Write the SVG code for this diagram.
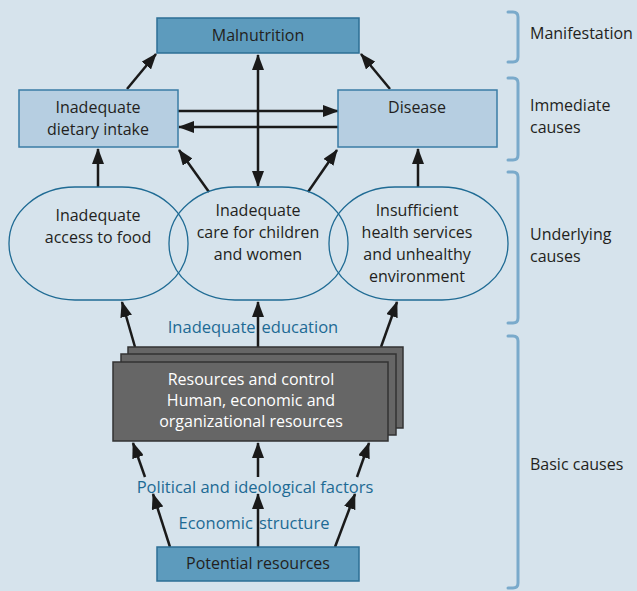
<svg xmlns="http://www.w3.org/2000/svg" width="637" height="591" viewBox="0 0 637 591">
<defs>
<marker id="ah" viewBox="0 0 16 12" refX="15" refY="6" markerWidth="16" markerHeight="12" markerUnits="userSpaceOnUse" orient="auto-start-reverse">
<path d="M0,0 L16,6 L0,12 Z" fill="#1a1a1a"/>
</marker>
<style>
.t{font-family:"Open Sans","Noto Sans",sans-serif;font-size:16px;fill:#231f20;text-anchor:middle}
.tl{font-family:"Open Sans","Noto Sans",sans-serif;font-size:16px;fill:#231f20}
.tb{font-family:"Open Sans","Noto Sans",sans-serif;font-size:16.5px;fill:#1d6a94;text-anchor:middle}
.tw{font-family:"Open Sans","Noto Sans",sans-serif;font-size:16px;fill:#ffffff;text-anchor:middle}
.dark{fill:#5d9bbd;stroke:#2d6f95;stroke-width:1.5}
.light{fill:#b6cee1;stroke:#3a7ca5;stroke-width:1.5}
.oval{fill:none;stroke:#1f6b94;stroke-width:1.3}
.res{fill:#666666;stroke:#333333;stroke-width:1.5}
.c{stroke:#1a1a1a;stroke-width:2.5;fill:none;marker-end:url(#ah)}
.cc{stroke:#1a1a1a;stroke-width:2.5;fill:none;marker-end:url(#ah);marker-start:url(#ah)}
.br{fill:none;stroke:#7aaacb;stroke-width:3;stroke-linecap:round}
</style>
</defs>
<rect width="637" height="591" fill="#d6e3ec"/>

<g id="connectors">
<line class="c" x1="127" y1="89" x2="156" y2="54"/>
<line class="c" x1="390" y1="89" x2="361" y2="54"/>
<line class="cc" x1="258" y1="55" x2="258" y2="186"/>
<line class="c" x1="178" y1="111" x2="338" y2="111"/>
<line class="c" x1="338" y1="127" x2="179" y2="127"/>
<line class="c" x1="98" y1="187" x2="98" y2="149"/>
<line class="c" x1="209" y1="192" x2="179" y2="150"/>
<line class="c" x1="308" y1="192" x2="337" y2="150"/>
<line class="c" x1="418" y1="187" x2="418" y2="149"/>
<line class="c" x1="135" y1="347" x2="122" y2="302"/>
<line class="c" x1="258" y1="347" x2="258" y2="302"/>
<line class="c" x1="381" y1="347" x2="397" y2="302"/>
<line class="c" x1="145" y1="477" x2="133" y2="443"/>
<line class="c" x1="258" y1="477" x2="258" y2="443"/>
<line class="c" x1="357" y1="477" x2="369" y2="443"/>
<line class="c" x1="170" y1="547" x2="153" y2="494"/>
<line class="c" x1="258" y1="547" x2="258" y2="494"/>
<line class="c" x1="335" y1="547" x2="355" y2="494"/>
</g>

<g id="malnutrition">
<rect class="dark" x="157" y="18" width="202" height="35"/>
<text class="t" x="258" y="41">Malnutrition</text>
</g>
<g id="dietary-intake">
<rect class="light" x="19" y="90" width="159" height="57"/>
<text class="t" x="98" y="113">Inadequate</text>
<text class="t" x="98" y="135">dietary intake</text>
</g>
<g id="disease">
<rect class="light" x="338" y="90" width="159" height="57"/>
<text class="t" x="417" y="113">Disease</text>
</g>
<g id="access-food">
<rect class="oval" x="9" y="187" width="179" height="113" rx="66" ry="56"/>
<text class="t" x="98" y="221">Inadequate</text>
<text class="t" x="98" y="243">access to food</text>
</g>
<g id="care">
<rect class="oval" x="169" y="187" width="179" height="113" rx="66" ry="56"/>
<text class="t" x="258" y="216">Inadequate</text>
<text class="t" x="258" y="238">care for children</text>
<text class="t" x="258" y="260">and women</text>
</g>
<g id="health">
<rect class="oval" x="329" y="187" width="179" height="113" rx="66" ry="56"/>
<text class="t" x="417" y="216">Insufficient</text>
<text class="t" x="417" y="238">health services</text>
<text class="t" x="417" y="260">and unhealthy</text>
<text class="t" x="417" y="282">environment</text>
</g>
<g id="education-label">
<text class="tb" x="253" y="333">Inadequate<tspan dx="6">education</tspan></text>
</g>
<g id="resources">
<rect class="res" x="128" y="347" width="275" height="81"/>
<rect class="res" x="121" y="354" width="275" height="81"/>
<rect class="res" x="113" y="362" width="275" height="79"/>
<text class="tw" x="251" y="385">Resources and control</text>
<text class="tw" x="251" y="406">Human, economic and</text>
<text class="tw" x="251" y="427">organizational resources</text>
</g>
<g id="political-label">
<text class="tb" x="255" y="493">Political and ideological factors</text>
</g>
<g id="economic-label">
<text class="tb" x="254" y="529">Economic<tspan dx="6">structure</tspan></text>
</g>
<g id="potential">
<rect class="dark" x="157" y="547" width="202" height="34"/>
<text class="t" x="258" y="569">Potential resources</text>
</g>

<g id="brackets">
<path class="br" d="M508,12 H513 Q518,12 518,17 V57 Q518,62 513,62 H508"/>
<path class="br" d="M508,78 H513 Q518,78 518,83 V155 Q518,160 513,160 H508"/>
<path class="br" d="M508,172 H513 Q518,172 518,177 V318 Q518,323 513,323 H508"/>
<path class="br" d="M508,336 H513 Q518,336 518,341 V583 Q518,588 513,588 H508"/>
<text class="tl" x="530" y="39">Manifestation</text>
<text class="tl" x="530" y="111">Immediate</text>
<text class="tl" x="530" y="133">causes</text>
<text class="tl" x="530" y="240">Underlying</text>
<text class="tl" x="530" y="262">causes</text>
<text class="tl" x="530" y="470">Basic causes</text>
</g>
</svg>
